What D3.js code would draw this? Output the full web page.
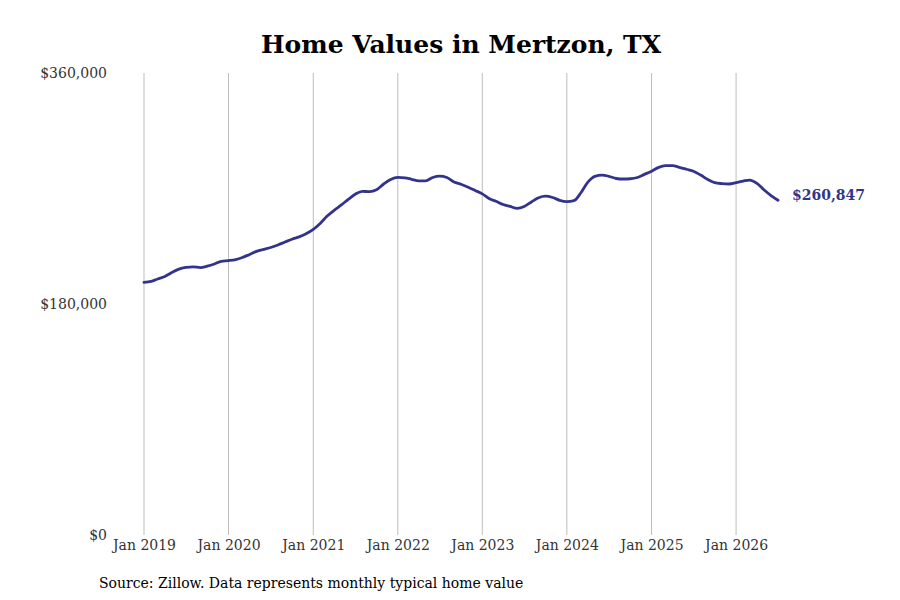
<!DOCTYPE html>
<html>
<head>
    <title>Home Values in Mertzon, TX</title>
    <script src="https://d3js.org/d3.v7.min.js"></script>
    <style>
        body {
            margin: 0;
            padding: 0;
            background: #fff;
            font-family: "DejaVu Serif", serif;
        }
        svg text {
            font-family: "DejaVu Serif", serif;
        }
    </style>
</head>
<body>
    <div id="chart"></div>
    <script>
        // Monthly typical home value, Jan 2019 - Jul 2026
        const startMonth = new Date(2019, 0, 1);
        const homeValues = [
            196900, 197600, 199500, 201500, 204500, 207200, 208500, 209000, 208400, 209500, 211200, 213300,
            213800, 214600, 216200, 218600, 221000, 222600, 224000, 226000, 228300, 230500, 232300, 234700,
            238200, 243000, 248300, 253000, 257000, 261500, 265500, 267800, 267500, 269000, 273500, 277000,
            278600, 278300, 277200, 276000, 276000, 278600, 279600, 278600, 275000, 273300, 271000, 268500,
            265800, 262000, 260000, 257500, 256000, 254500, 256000, 259500, 262800, 264000, 263000, 260800,
            259800, 260500, 266500, 275000, 279500, 280500, 279500, 277800, 277400, 277600, 278600, 281000,
            283500, 286500, 287800, 287800, 286500, 285000, 283500, 280500, 277000, 274500, 273800, 273500,
            274500, 275800, 276600, 274000, 269000, 264500, 260847
        ];
        const yTicks = [0, 180000, 360000];
        const xTickYears = [2019, 2020, 2021, 2022, 2023, 2024, 2025, 2026];

        const data = homeValues.map((v, i) => ({
            date: new Date(startMonth.getFullYear(), startMonth.getMonth() + i, 1),
            value: v
        }));

        const width = 900, height = 600;
        const margin = {top: 73, right: 122, bottom: 65, left: 144};

        const svg = d3.select('#chart')
            .append('svg')
            .attr('width', width)
            .attr('height', height);

        const x = d3.scaleTime()
            .domain(d3.extent(data, d => d.date))
            .range([margin.left, width - margin.right]);

        const y = d3.scaleLinear()
            .domain([0, 360000])
            .range([height - margin.bottom, margin.top]);

        // Title
        svg.append('text')
            .attr('x', 461)
            .attr('y', 53)
            .attr('text-anchor', 'middle')
            .style('font-size', '25px')
            .style('font-weight', 'bold')
            .style('fill', '#000')
            .text('Home Values in Mertzon, TX');

        // Vertical gridlines at each January
        const xTicks = xTickYears.map(yr => new Date(yr, 0, 1));
        svg.append('g')
            .selectAll('line')
            .data(xTicks)
            .join('line')
            .attr('x1', d => x(d))
            .attr('x2', d => x(d))
            .attr('y1', y(360000))
            .attr('y2', y(0))
            .attr('stroke', '#bdbdbd')
            .attr('stroke-width', 1);

        // X axis labels
        const xAxis = d3.axisBottom(x)
            .tickValues(xTicks)
            .tickFormat(d3.timeFormat('Jan %Y'))
            .tickSize(0)
            .tickPadding(5);

        svg.append('g')
            .attr('transform', `translate(0,${y(0)})`)
            .call(xAxis)
            .call(g => g.select('.domain').remove())
            .call(g => g.selectAll('text')
                .style('font-size', '14px')
                .style('font-family', '"DejaVu Serif", serif')
                .style('fill', '#333'));

        // Y axis labels
        const yAxis = d3.axisLeft(y)
            .tickValues(yTicks)
            .tickFormat(d => '$' + d3.format(',')(d))
            .tickSize(0)
            .tickPadding(37);

        svg.append('g')
            .attr('transform', `translate(${margin.left},0)`)
            .call(yAxis)
            .call(g => g.select('.domain').remove())
            .call(g => g.selectAll('text')
                .style('font-size', '14px')
                .style('font-family', '"DejaVu Serif", serif')
                .style('fill', '#333'));

        // Line
        const line = d3.line()
            .x(d => x(d.date))
            .y(d => y(d.value))
            .curve(d3.curveMonotoneX);

        svg.append('path')
            .datum(data)
            .attr('fill', 'none')
            .attr('stroke', '#33338c')
            .attr('stroke-width', 2.8)
            .attr('stroke-linejoin', 'round')
            .attr('stroke-linecap', 'round')
            .attr('d', line);

        // End label
        const last = data[data.length - 1];
        svg.append('text')
            .attr('x', x(last.date) + 14)
            .attr('y', y(last.value) - 5)
            .attr('dy', '0.35em')
            .style('font-size', '14px')
            .style('font-weight', 'bold')
            .style('fill', '#33338c')
            .text('$' + d3.format(',')(last.value));

        // Source note
        svg.append('text')
            .attr('x', 99)
            .attr('y', 588)
            .style('font-size', '14px')
            .style('fill', '#000')
            .text('Source: Zillow. Data represents monthly typical home value');
    </script>
</body>
</html>
